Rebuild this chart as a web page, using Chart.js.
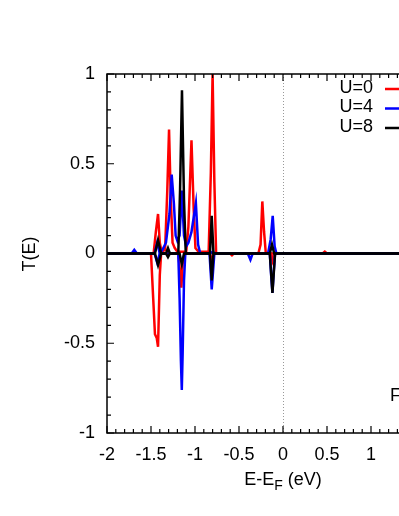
<!DOCTYPE html>
<html><head><meta charset="utf-8">
<script src="https://cdn.jsdelivr.net/npm/chart.js@4"></script>
<style>html,body{margin:0;padding:0;overflow:hidden;background:#fff;width:399px;height:516px}canvas{display:block}</style>
</head><body><canvas id="c" width="520" height="516" style="width:520px;height:516px"></canvas>
<script>
const seriesLabels = ['U=0', 'U=4', 'U=8'];
const seriesColors = ['#ff0000', '#0000ff', '#000000'];
const xTicks = [-2, -1.5, -1, -0.5, 0, 0.5, 1, 1.5, 2];
const yTicks = [-1, -0.5, 0, 0.5, 1];

// U=0 : positive (up) and negative (down) branches
const u0UpE = [-2, -1.47, -1.445, -1.42, -1.40, -1.38, -1.34, -1.315, -1.295, -1.275, -1.255, -1.23, -1.20, -1.10, -1.075, -1.04, -1.015, -0.995, -0.96, -0.845, -0.82, -0.80, -0.78, -0.76, -0.28, -0.255, -0.235, -0.215, -0.195, 0.45, 0.475, 0.50, 2];
const u0UpT = [0, 0, 0.12, 0.22, 0.06, 0.01, 0.02, 0.35, 0.69, 0.30, 0.06, 0.03, 0.01, 0.01, 0.15, 0.63, 0.25, 0.03, 0.01, 0.01, 0.45, 1.0, 0.4, 0, 0, 0.05, 0.29, 0.12, 0, 0, 0.01, 0, 0];
const u0DnE = [-2, -1.50, -1.475, -1.455, -1.435, -1.42, -1.40, -1.385, -1.19, -1.17, -1.155, -1.14, -1.12, -0.83, -0.81, -0.79, -0.60, -0.58, -0.56, -0.14, -0.12, -0.10, 2];
const u0DnT = [0, 0, -0.25, -0.45, -0.47, -0.52, -0.12, 0, 0, -0.1, -0.19, -0.06, 0, 0, -0.05, 0, 0, -0.01, 0, 0, -0.04, 0, 0];

// U=4
const u4UpE = [-2, -1.72, -1.69, -1.66, -1.46, -1.43, -1.40, -1.37, -1.33, -1.29, -1.265, -1.24, -1.22, -1.20, -1.175, -1.15, -1.125, -1.10, -1.075, -1.04, -0.99, -0.965, -0.94, -0.83, -0.80, -0.77, -0.17, -0.14, -0.117, -0.095, -0.075, 2];
const u4UpT = [0, 0, 0.02, 0, 0, 0.06, 0, 0.02, 0.06, 0.22, 0.44, 0.28, 0.1, 0.07, 0.1, 0.35, 0.1, 0.04, 0.06, 0.12, 0.28, 0.05, 0, 0, 0.01, 0, 0, 0.08, 0.21, 0.04, 0, 0];
const u4DnE = [-2, -1.46, -1.43, -1.40, -1.19, -1.175, -1.16, -1.15, -1.14, -1.125, -1.11, -0.835, -0.82, -0.81, -0.795, -0.78, -0.40, -0.37, -0.345, -0.15, -0.135, -0.12, -0.105, -0.09, 2];
const u4DnT = [0, 0, -0.05, 0, 0, -0.25, -0.6, -0.76, -0.55, -0.15, 0, 0, -0.12, -0.2, -0.1, 0, 0, -0.035, 0, 0, -0.12, -0.22, -0.1, 0, 0];

// U=8
const u8UpE = [-2, -1.455, -1.42, -1.385, -1.33, -1.307, -1.285, -1.19, -1.17, -1.148, -1.125, -1.105, -0.83, -0.81, -0.79, -0.15, -0.125, -0.10, 2];
const u8UpT = [0, 0, 0.075, 0, 0, 0.03, 0, 0, 0.35, 0.91, 0.3, 0, 0, 0.21, 0, 0, 0.05, 0, 0];
const u8DnE = [-2, -1.455, -1.42, -1.385, -1.33, -1.307, -1.285, -1.175, -1.15, -1.125, -0.83, -0.81, -0.79, -0.15, -0.12, -0.09, 2];
const u8DnT = [0, 0, -0.065, 0, 0, -0.02, 0, 0, -0.06, 0, 0, -0.15, 0, 0, -0.22, 0, 0];

const FONT = '"Liberation Sans", Arial, Helvetica, sans-serif';
const FS = 18;
const pts = (xs, ys) => xs.map((x, i) => ({x, y: ys[i]}));
const branches = [
  [u0UpE, u0UpT, 0], [u0DnE, u0DnT, 0],
  [u4UpE, u4UpT, 1], [u4DnE, u4DnT, 1],
  [u8UpE, u8UpT, 2], [u8DnE, u8DnT, 2]
];
const datasets = branches.map(([e, t, s]) => ({
  label: seriesLabels[s],
  data: pts(e, t),
  borderColor: seriesColors[s],
  backgroundColor: seriesColors[s],
  borderWidth: 2.5,
  pointRadius: 0,
  showLine: true,
  fill: false,
  tension: 0,
  order: 2 - s,
  clip: false
}));

const decor = {
  id: 'decor',
  beforeDatasetsDraw(chart) {
    const {ctx, chartArea: a, scales: {x}} = chart;
    ctx.save();
    ctx.strokeStyle = '#999';
    ctx.lineWidth = 1;
    ctx.setLineDash([1, 2]);
    const x0 = Math.round(x.getPixelForValue(0)) + 0.5;
    ctx.beginPath(); ctx.moveTo(x0, a.top); ctx.lineTo(x0, a.bottom); ctx.stroke();
    ctx.restore();
  },
  afterDatasetsDraw(chart) {
    const {ctx, chartArea: a, scales: {x, y}} = chart;
    ctx.save();
    ctx.strokeStyle = '#000';
    ctx.lineWidth = 1.5;
    ctx.strokeRect(a.left, a.top, a.right - a.left, a.bottom - a.top);
    ctx.lineWidth = 1.2;
    ctx.beginPath();
    for (let i = -20; i <= 20; i++) {
      const px = x.getPixelForValue(i / 10);
      const len = (i % 5 === 0) ? 7 : 4;
      ctx.moveTo(px, a.bottom); ctx.lineTo(px, a.bottom - len);
      ctx.moveTo(px, a.top); ctx.lineTo(px, a.top + len);
    }
    for (let i = -10; i <= 10; i++) {
      const py = y.getPixelForValue(i / 10);
      const len = (i % 5 === 0) ? 7 : 4;
      ctx.moveTo(a.left, py); ctx.lineTo(a.left + len, py);
      ctx.moveTo(a.right, py); ctx.lineTo(a.right - len, py);
    }
    ctx.stroke();

    // legend (text right-aligned, line sample to the right)
    ctx.font = FS + 'px ' + FONT;
    ctx.fillStyle = '#000';
    ctx.textAlign = 'right';
    ctx.textBaseline = 'middle';
    seriesLabels.forEach((lab, i) => {
      const ly = 88 + i * 19.5;
      ctx.fillText(lab, 373, ly);
      ctx.strokeStyle = seriesColors[i];
      ctx.lineWidth = 2.5;
      ctx.beginPath(); ctx.moveTo(385, ly + 1); ctx.lineTo(428, ly + 1); ctx.stroke();
    });

    // panel label
    ctx.textAlign = 'left';
    ctx.fillStyle = '#000';
    ctx.fillText('F', 390, 396);

    // axis titles
    ctx.save();
    ctx.translate(30, 254);
    ctx.rotate(-Math.PI / 2);
    ctx.textAlign = 'center';
    ctx.fillText('T(E)', 0, 0);
    ctx.restore();

    const main1 = 'E-E', sub = 'F', main2 = ' (eV)';
    ctx.font = FS + 'px ' + FONT;
    const w1 = ctx.measureText(main1).width, w3 = ctx.measureText(main2).width;
    ctx.font = '14px ' + FONT;
    const w2 = ctx.measureText(sub).width;
    const sx = x.getPixelForValue(0) - (w1 + w2 + w3) / 2;
    ctx.textAlign = 'left';
    ctx.textBaseline = 'alphabetic';
    ctx.font = FS + 'px ' + FONT;
    ctx.fillText(main1, sx, 485);
    ctx.font = '14px ' + FONT;
    ctx.fillText(sub, sx + w1, 490);
    ctx.font = FS + 'px ' + FONT;
    ctx.fillText(main2, sx + w1 + w2, 485);
    ctx.restore();
  }
};

new Chart(document.getElementById('c'), {
  type: 'scatter',
  data: {datasets},
  options: {
    responsive: false,
    animation: false,
    devicePixelRatio: 1,
    layout: {padding: {left: 0, top: 74, right: 61, bottom: 0}},
    plugins: {legend: {display: false}, tooltip: {enabled: false}, title: {display: false}},
    scales: {
      x: {
        type: 'linear', min: -2, max: 2,
        afterBuildTicks: s => { s.ticks = xTicks.map(v => ({value: v})); },
        afterFit: s => { s.height = 83; },
        ticks: {color: '#000', font: {size: FS, family: FONT}, padding: 11, maxRotation: 0, autoSkip: false, callback: v => String(v)},
        grid: {display: false, drawTicks: false},
        border: {display: false}
      },
      y: {
        type: 'linear', min: -1, max: 1,
        afterBuildTicks: s => { s.ticks = yTicks.map(v => ({value: v})); },
        afterFit: s => { s.width = 107; },
        ticks: {color: '#000', font: {size: FS, family: FONT}, padding: 12, autoSkip: false, callback: v => String(v)},
        grid: {display: false, drawTicks: false},
        border: {display: false}
      }
    }
  },
  plugins: [decor]
});
</script>
</body></html>
